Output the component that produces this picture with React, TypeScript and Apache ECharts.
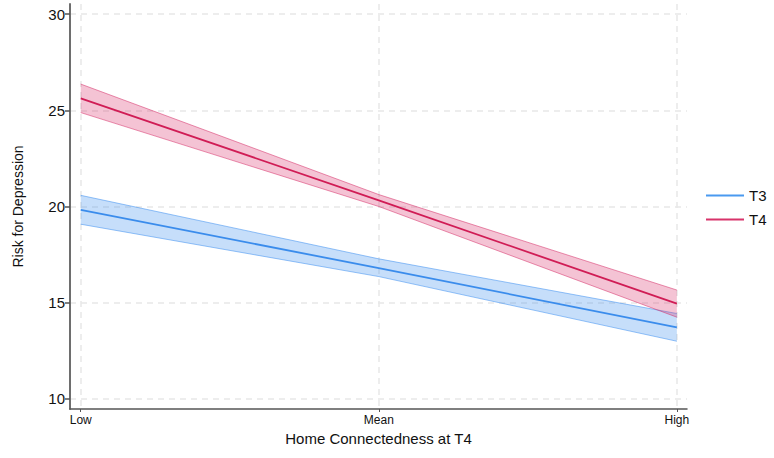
import React, { useEffect, useRef } from "react";
import * as echarts from "echarts";

const xLevels = [0, 1, 2];
const xLabels = ["Low", "Mean", "High"];
const yTicks = [10, 15, 20, 25, 30];

const t3Mean = [19.82, 16.8, 13.72];
const t3Lower = [19.08, 16.36, 13.0];
const t3Upper = [20.58, 17.28, 14.44];

const t4Mean = [25.62, 20.32, 14.95];
const t4Lower = [24.88, 20.0, 14.25];
const t4Upper = [26.36, 20.62, 15.66];

const FONT = "'Liberation Sans', Arial, Helvetica, sans-serif";

function bandSeries(name: string, lower: number[], upper: number[], fill: string, edge: string, z: number) {
  return {
    type: "custom",
    name,
    silent: true,
    z,
    data: xLevels.map((x, i) => [x, lower[i], upper[i]]),
    encode: { x: 0, y: [1, 2] },
    renderItem: (params: any, api: any) => {
      if (params.dataIndex !== 0) return null;
      const up = xLevels.map((x, i) => api.coord([x, upper[i]]));
      const lo = xLevels.map((x, i) => api.coord([x, lower[i]]));
      return {
        type: "group",
        children: [
          { type: "polygon", shape: { points: up.concat(lo.slice().reverse()) }, style: { fill } },
          { type: "polyline", shape: { points: up }, style: { stroke: edge, lineWidth: 1, fill: null } },
          { type: "polyline", shape: { points: lo }, style: { stroke: edge, lineWidth: 1, fill: null } },
        ],
      };
    },
  };
}

export default function App() {
  const ref = useRef<HTMLDivElement>(null);
  useEffect(() => {
    const chart = echarts.init(ref.current!, null, { renderer: "svg" });
    const gridLine = { show: true, lineStyle: { color: "#e8e8e8", width: 1.5, type: [6, 5] } };
    chart.setOption({
      animation: false,
      textStyle: { fontFamily: FONT },
      grid: { left: 70, right: 87, top: 4, bottom: 49, containLabel: false, outerBoundsMode: "none" },
      legend: {
        orient: "vertical",
        left: 701,
        top: 183,
        icon: "rect",
        itemWidth: 38,
        itemHeight: 2,
        itemGap: 9,
        data: ["T3", "T4"],
        textStyle: { fontSize: 15, color: "#111", fontFamily: FONT },
      },
      xAxis: {
        type: "value",
        min: -0.036,
        max: 2.034,
        name: "Home Connectedness at T4",
        nameLocation: "middle",
        nameGap: 21,
        nameTextStyle: { fontSize: 15, color: "#111", fontFamily: FONT },
        axisLine: { show: true, onZero: false, lineStyle: { color: "#555", width: 1.5 } },
        axisTick: { show: true, length: 3, customValues: xLevels, lineStyle: { color: "#555" } },
        axisLabel: {
          customValues: xLevels,
          formatter: (v: number) => xLabels[Math.round(v)] ?? "",
          fontSize: 12,
          color: "#111",
          margin: 5,
          fontFamily: FONT,
        },
        splitLine: { ...gridLine },
      },
      yAxis: {
        type: "value",
        min: 9.48,
        max: 30.52,
        name: "Risk for Depression",
        nameLocation: "middle",
        nameGap: 45,
        nameTextStyle: { fontSize: 14, color: "#111", fontFamily: FONT },
        axisLine: { show: true, onZero: false, lineStyle: { color: "#6e6e6e", width: 2 } },
        axisTick: { show: true, length: 5, customValues: yTicks, lineStyle: { color: "#555", width: 1.5 } },
        axisLabel: { customValues: yTicks, fontSize: 15, color: "#111", margin: 5, fontFamily: FONT },
        splitLine: { ...gridLine },
      },
      series: [
        bandSeries("T3 CI", t3Lower, t3Upper, "rgba(66,145,240,0.30)", "rgba(66,145,240,0.55)", 2),
        {
          type: "line",
          name: "T3",
          z: 3,
          symbol: "none",
          data: xLevels.map((x, i) => [x, t3Mean[i]]),
          lineStyle: { color: "#3a8cec", width: 1.8 },
          itemStyle: { color: "#4a9af0" },
        },
        bandSeries("T4 CI", t4Lower, t4Upper, "rgba(214,40,100,0.28)", "rgba(214,40,100,0.5)", 4),
        {
          type: "line",
          name: "T4",
          z: 5,
          symbol: "none",
          data: xLevels.map((x, i) => [x, t4Mean[i]]),
          lineStyle: { color: "#d01c55", width: 1.8 },
          itemStyle: { color: "#d8336a" },
        },
      ],
    });
    return () => chart.dispose();
  }, []);
  return <div ref={ref} style={{ width: 774, height: 458, position: "absolute", left: 0, top: 0 }} />;
}
